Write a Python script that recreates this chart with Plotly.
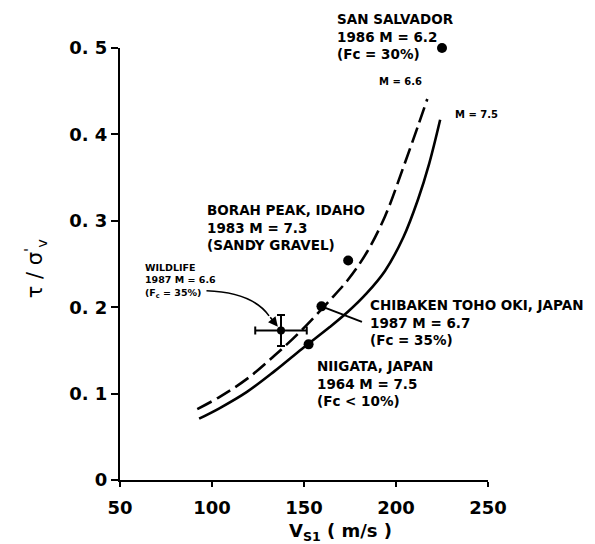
import plotly.graph_objects as go

# Threshold curves: cyclic stress ratio vs normalized shear-wave velocity
m66_vs = [92, 104, 119, 134, 149, 164, 174, 184, 194, 204, 212, 217]
m66_ratio = [0.082, 0.096, 0.117, 0.144, 0.174, 0.208, 0.232, 0.263, 0.305, 0.362, 0.410, 0.441]

m75_vs = [93, 104, 119, 134, 149, 164, 174, 184, 194, 204, 212, 218, 224]
m75_ratio = [0.071, 0.083, 0.102, 0.126, 0.152, 0.177, 0.195, 0.216, 0.242, 0.281, 0.325, 0.366, 0.417]

# Case-history sites
site_names = ["SAN SALVADOR", "BORAH PEAK", "CHIBAKEN TOHO OKI", "NIIGATA"]
site_vs = [225, 174, 159.5, 152.5]
site_ratio = [0.500, 0.254, 0.201, 0.157]

# Wildlife site with uncertainty
wild_vs = [137.5]
wild_ratio = [0.173]
wild_vs_err = [14]
wild_ratio_err = [0.018]

x_ticks = [50, 100, 150, 200, 250]
y_ticks = [0, 0.1, 0.2, 0.3, 0.4, 0.5]
y_tick_text = ["0", "0. 1", "0. 2", "0. 3", "0. 4", "0. 5"]
Y_MAX = 0.5

INK = "#000000"
TICK_FONT = dict(family="DejaVu Sans", size=18, color=INK, weight="bold")
NOTE_FONT = dict(family="DejaVu Sans", size=13.5, color=INK)

fig = go.Figure()

fig.add_trace(go.Scatter(
    x=m66_vs, y=m66_ratio, mode="lines",
    line=dict(color=INK, width=2.6, dash="16px,6px", shape="spline", smoothing=1),
    showlegend=False, cliponaxis=False,
))
fig.add_trace(go.Scatter(
    x=m75_vs, y=m75_ratio, mode="lines",
    line=dict(color=INK, width=2.6, shape="spline", smoothing=1),
    showlegend=False, cliponaxis=False,
))
fig.add_trace(go.Scatter(
    x=site_vs, y=site_ratio, mode="markers", text=site_names,
    marker=dict(color=INK, size=10),
    showlegend=False, cliponaxis=False,
))
fig.add_trace(go.Scatter(
    x=wild_vs, y=wild_ratio, mode="markers",
    marker=dict(color=INK, size=8),
    error_x=dict(type="data", array=wild_vs_err, color=INK, thickness=2, width=4),
    error_y=dict(type="data", array=wild_ratio_err, color=INK, thickness=2, width=4),
    showlegend=False, cliponaxis=False,
))

# Site labels (y given in data units, placed on the paper so they can sit above the axes)
labels = [
    (166.8, 0.513, "<b>SAN SALVADOR<br>1986 M = 6.2<br>(Fc = 30%)</b>", NOTE_FONT),
    (96.2, 0.292, "<b>BORAH PEAK, IDAHO<br>1983 M = 7.3<br>(SANDY GRAVEL)</b>", NOTE_FONT),
    (184.8, 0.182, "<b>CHIBAKEN TOHO OKI, JAPAN<br>1987 M = 6.7<br>(Fc = 35%)</b>", NOTE_FONT),
    (156.0, 0.112, "<b>NIIGATA, JAPAN<br>1964 M = 7.5<br>(Fc < 10%)</b>", NOTE_FONT),
    (62.5, 0.230, "<b>WILDLIFE<br>1987 M = 6.6<br>(F<sub>c</sub> = 35%)</b>",
     dict(family="DejaVu Sans", size=9.5, color=INK)),
]
for lx, ly, txt, fnt in labels:
    fig.add_annotation(x=lx, y=ly / Y_MAX, xref="x", yref="paper", text=txt, showarrow=False,
                       xanchor="left", yanchor="middle", align="left", font=fnt)

small = dict(family="DejaVu Sans", size=10, color=INK)
fig.add_annotation(x=202.2, y=0.461, text="<b>M = 6.6</b>", showarrow=False, font=small)
fig.add_annotation(x=243.5, y=0.4225, text="<b>M = 7.5</b>", showarrow=False, font=small)

# Curved leader from the Wildlife label to its data point
wx, wy = wild_vs[0], wild_ratio[0]
tail_x, tail_y = wx - 6.5, wy + 0.017
fig.add_shape(type="path", xref="x", yref="y",
              path=f"M 97,0.219 Q 122,0.217 {tail_x},{tail_y}",
              line=dict(color=INK, width=1.6))
fig.add_annotation(x=wx, y=wy, ax=tail_x, ay=tail_y, axref="x", ayref="y",
                   xref="x", yref="y", text="", showarrow=True,
                   arrowhead=2, arrowsize=1.2, arrowwidth=1.6, arrowcolor=INK, standoff=5)

# Leader for the Chibaken site
fig.add_shape(type="line", xref="x", yref="y",
              x0=site_vs[2], y0=site_ratio[2], x1=181.5, y1=0.183,
              line=dict(color=INK, width=2))

# Axis titles
fig.add_annotation(x=-0.231, y=0.49, xref="paper", yref="paper", xanchor="center",
                   yanchor="middle", text="τ / σ<sup>'</sup><sub>v</sub>", textangle=-90,
                   showarrow=False, font=dict(family="DejaVu Sans", size=21, color=INK))
fig.add_annotation(x=170, y=-0.12, xref="x", yref="paper", xanchor="center",
                   yanchor="middle", text="V<sub>S1</sub> ( m/s )", showarrow=False,
                   font=dict(family="DejaVu Sans", size=18, color=INK, weight="bold"))

fig.update_xaxes(range=[50, 250], tickvals=x_ticks, ticks="outside", ticklen=5,
                 tickwidth=2, tickcolor=INK, showline=True, linecolor=INK, linewidth=2,
                 showgrid=False, zeroline=False, tickfont=TICK_FONT, ticklabelstandoff=5)
fig.update_yaxes(range=[0, Y_MAX], tickvals=y_ticks, ticktext=y_tick_text, ticks="outside",
                 ticklen=7, tickwidth=2, tickcolor=INK, showline=True, linecolor=INK,
                 linewidth=2, showgrid=False, zeroline=False, tickfont=TICK_FONT)

fig.update_layout(width=595, height=544, margin=dict(l=120, r=107, t=48, b=64),
                  paper_bgcolor="white", plot_bgcolor="white")

fig.write_html("out.html")
